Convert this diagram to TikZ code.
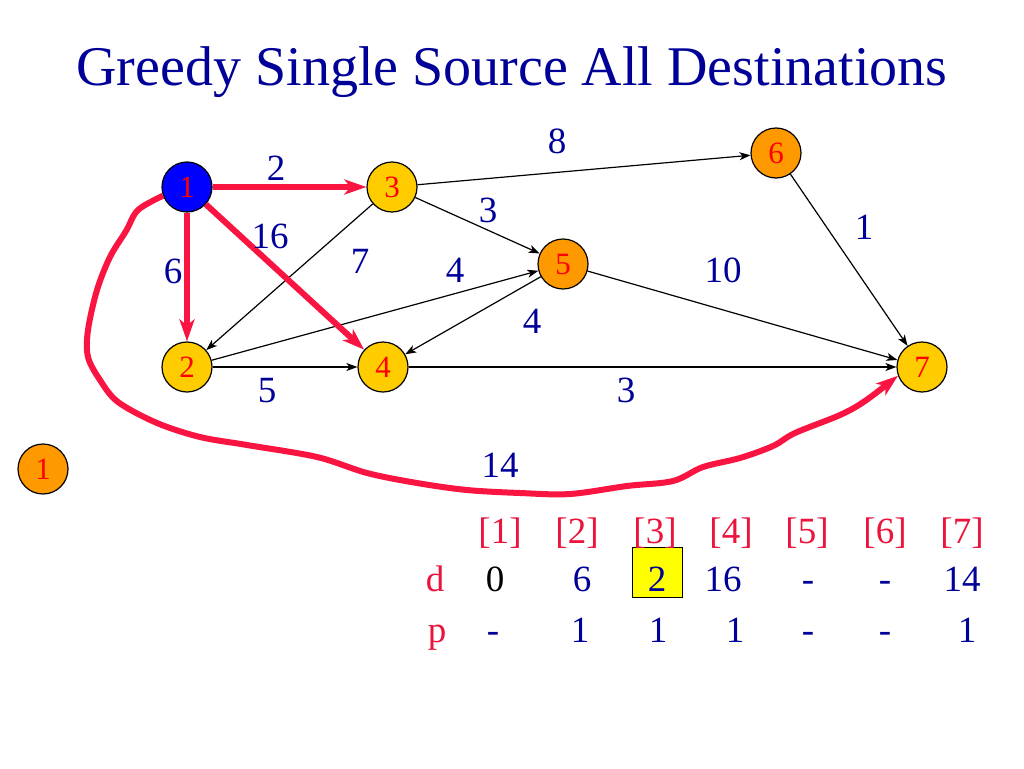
\documentclass[tikz,border=0pt]{standalone}
\usepackage{fontspec}
\setmainfont{Liberation Serif}
\usetikzlibrary{arrows.meta}
\definecolor{navy}{RGB}{0,0,153}
\definecolor{nodered}{RGB}{255,0,0}
\definecolor{edgered}{RGB}{250,20,65}
\definecolor{tabred}{RGB}{235,20,60}
\definecolor{nodeyellow}{RGB}{255,204,0}
\definecolor{nodeorange}{RGB}{255,153,0}
\definecolor{nodeblue}{RGB}{0,0,255}
\definecolor{boxyellow}{RGB}{255,255,0}
\begin{document}
\begin{tikzpicture}[x=1pt,y=-1pt,
  vtx/.style={circle, draw=black, line width=1.2pt, minimum size=50pt, inner sep=0pt,
    font=\fontsize{31}{31}\selectfont, text=nodered},
  yel/.style={vtx, fill=nodeyellow},
  org/.style={vtx, fill=nodeorange},
  blu/.style={vtx, fill=nodeblue},
  wt/.style={text=navy, font=\fontsize{37}{37}\selectfont, anchor=base, inner sep=0pt},
  thd/.style={text=tabred, font=\fontsize{37}{37}\selectfont, anchor=base, inner sep=0pt},
  tnv/.style={text=navy, font=\fontsize{37}{37}\selectfont, anchor=base, inner sep=0pt},
  blk/.style={draw=black, line width=1.2pt, -{Stealth[length=11pt,width=8pt,inset=3pt]}},
  redge/.style={draw=edgered, line width=6pt, line join=round,
    -{Stealth[length=22pt,width=15pt,inset=6pt]}}
]
\useasboundingbox (0,0) rectangle (1024,768);
\fill[white] (0,0) rectangle (1024,768);

% title
\node[anchor=base, text=navy, font=\fontsize{56}{56}\selectfont, inner sep=0pt]
  (title) at (512,85) {Greedy Single Source All Destinations};

% vertices
\node[blu] (n1) at (187,187) {1};
\node[yel] (n3) at (392,187) {3};
\node[yel] (n2) at (187,367) {2};
\node[yel] (n4) at (383,367) {4};
\node[org] (n5) at (563,264) {5};
\node[org] (n6) at (776,153) {6};
\node[yel] (n7) at (922,367) {7};
\node[org] (s1) at (43,469) {1};

% black edges
\draw[blk] (n3) -- (n6);
\draw[blk] (n3) -- (n5);
\draw[blk] (n3) -- (n2);
\draw[blk] (n2) -- (n5);
\draw[blk] (n5) -- (n4);
\draw[blk] (n2) -- (n4);
\draw[blk] (n5) -- (n7);
\draw[blk] (n6) -- (n7);
\draw[blk] (n4) -- (n7);

% red edges
\draw[redge] (n1) -- (n3);
\draw[redge] (n1) -- (n2);
\draw[redge] (n1) -- (n4);
\draw[redge] plot[smooth, tension=0.55] coordinates {(n1.200) (138,210) (126,231) (110,257)
  (97,290) (88,330) (88,357) (100,380) (118,402) (157,423) (200,437) (247,445)
  (317,457) (367,473) (417,483) (467,490) (520,493) (570,494) (627,486) (673,481)
  (703,467) (740,458) (773,446) (795,433) (840,415) (865,401) (n7.200)};

% weights
\node[wt] (w13) at (276,180) {2};
\node[wt] (w14) at (270,248) {16};
\node[wt] (w12) at (173,283) {6};
\node[wt] (w32) at (360,273) {7};
\node[wt] (w35) at (488,222) {3};
\node[wt] (w25) at (455,282) {4};
\node[wt] (w54) at (532,333) {4};
\node[wt] (w36) at (557,153) {8};
\node[wt] (w67) at (864,239) {1};
\node[wt] (w57) at (723,282) {10};
\node[wt] (w24) at (267,402) {5};
\node[wt] (w47) at (626,402) {3};
\node[wt] (w17) at (500,477) {14};

% table
\node[draw=black, fill=boxyellow, line width=1pt, minimum width=50pt, minimum height=50pt,
  inner sep=0pt] (hl) at (657,572) {};
\node[thd] (h1) at (500,543) {[1]};
\node[thd] (h2) at (577,543) {[2]};
\node[thd] (h3) at (655,543) {[3]};
\node[thd] (h4) at (731,543) {[4]};
\node[thd] (h5) at (807,543) {[5]};
\node[thd] (h6) at (885,543) {[6]};
\node[thd] (h7) at (962,543) {[7]};

\node[thd] (dl) at (435,591) {d};
\node[tnv, text=black] (d1) at (495,591) {0};
\node[tnv] (d2) at (582,591) {6};
\node[tnv] (d3) at (657,591) {2};
\node[tnv] (d4) at (723,591) {16};
\node[tnv] (d5) at (808,591) {-};
\node[tnv] (d6) at (885,591) {-};
\node[tnv] (d7) at (962,591) {14};

\node[thd] (pl) at (437,642) {p};
\node[tnv] (p1) at (493,642) {-};
\node[tnv] (p2) at (580,642) {1};
\node[tnv] (p3) at (658,642) {1};
\node[tnv] (p4) at (735,642) {1};
\node[tnv] (p5) at (808,642) {-};
\node[tnv] (p6) at (885,642) {-};
\node[tnv] (p7) at (967,642) {1};
\end{tikzpicture}
\end{document}
